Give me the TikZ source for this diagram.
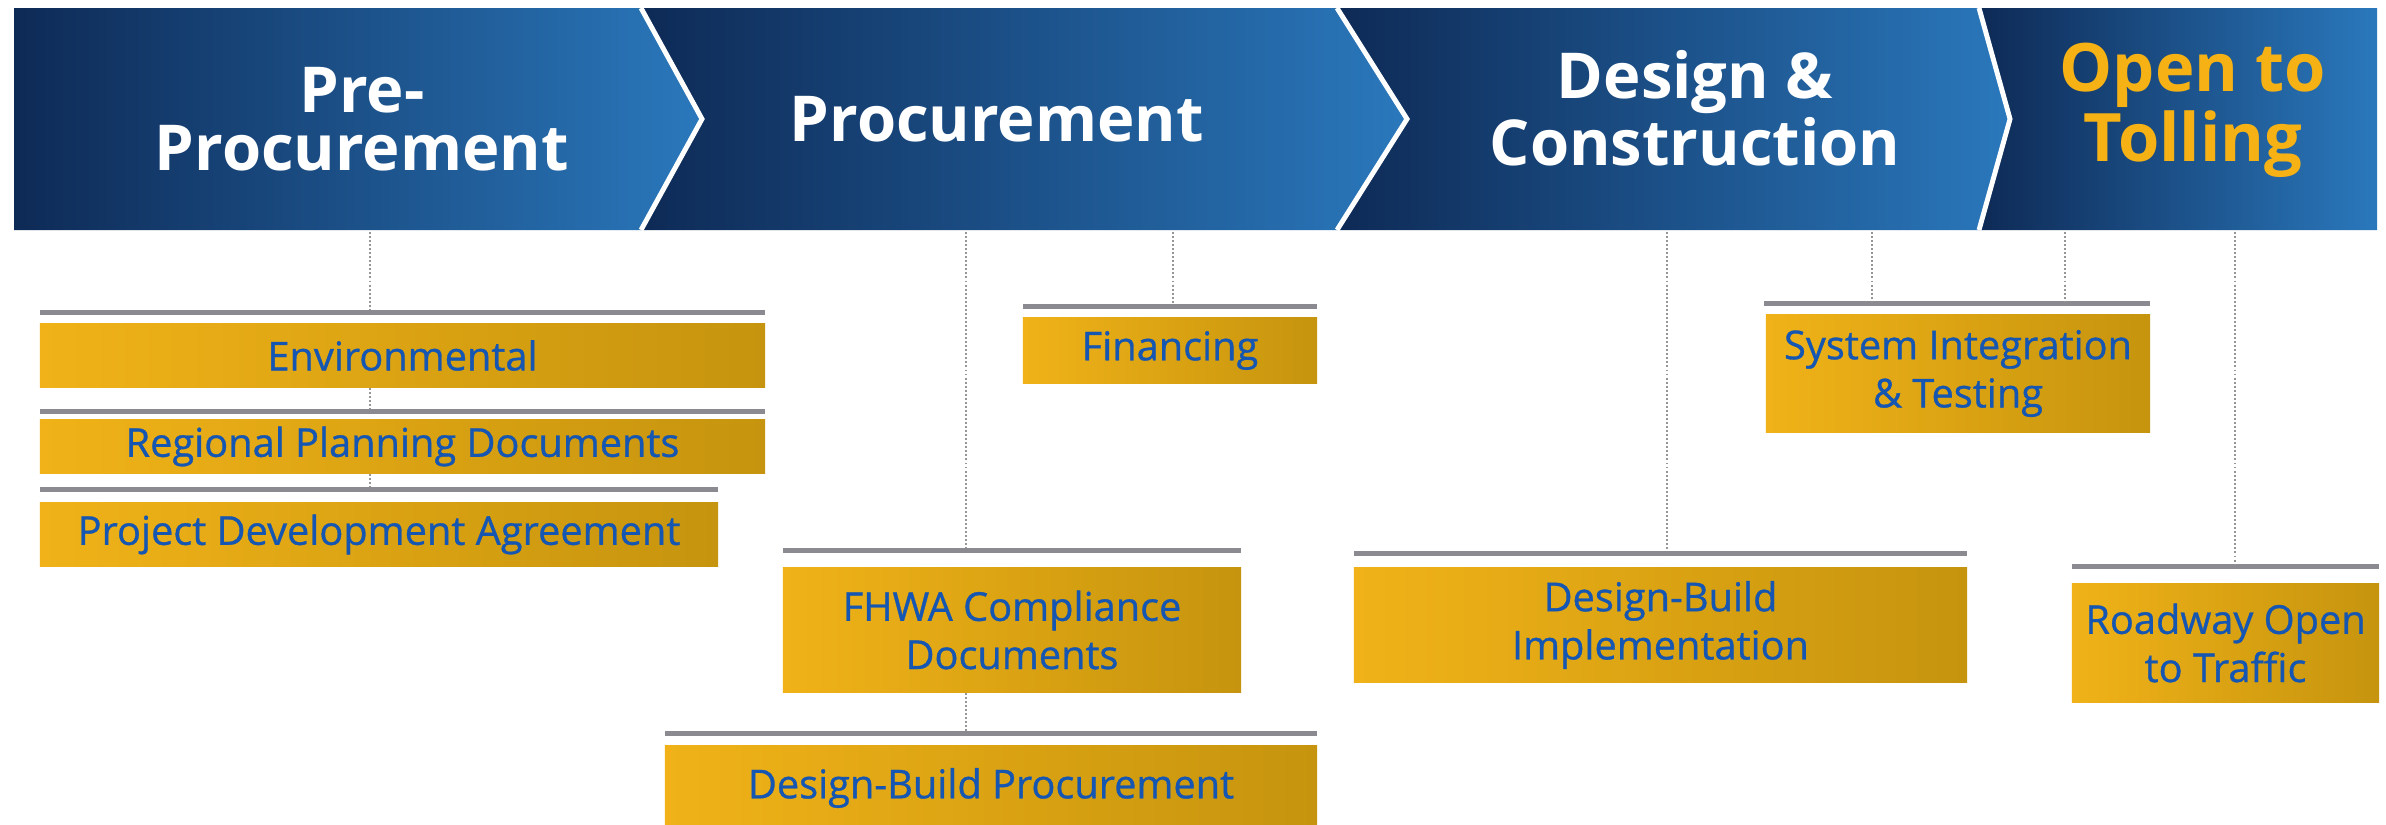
\documentclass[tikz,border=0pt]{standalone}
\usepackage{fontspec}
\setmainfont{Open Sans}
\newfontfamily\taskfont[FakeBold=0.8]{Open Sans}
\usepackage{tikz}
\usepackage{xcolor}

\definecolor{navy}{RGB}{14,42,86}
\definecolor{midblue}{RGB}{22,62,118}
\definecolor{sky}{RGB}{42,120,188}
\definecolor{goldl}{RGB}{240,178,24}
\definecolor{goldr}{RGB}{198,148,14}
\definecolor{tollgold}{RGB}{246,178,20}
\definecolor{txtblue}{RGB}{20,86,178}
\definecolor{bargray}{RGB}{138,138,144}
\definecolor{dotgray}{RGB}{150,150,150}

\begin{document}
\begin{tikzpicture}[x=0.01cm,y=-0.01cm]

\tikzstyle{phase}=[left color=navy, middle color=midblue, right color=sky]
\tikzstyle{sep}=[draw=white, line width=1.4pt, line join=miter]
\tikzstyle{title}=[text=white, font=\bfseries\fontsize{18}{16.5}\selectfont, align=center]
\tikzstyle{task}=[left color=goldl, right color=goldr, inner sep=0pt, text=txtblue, font=\taskfont\fontsize{11.3}{13.7}\selectfont, align=center]
\tikzstyle{bar}=[fill=bargray]
\tikzstyle{dots}=[draw=dotgray, line width=0.6pt, dash pattern=on 0.55pt off 0.6pt]

\def\preproc{(14,8) -- (641,8) -- (702,119) -- (641,230) -- (14,230) -- cycle}
\def\proc{(641,8) -- (1337,8) -- (1407,119) -- (1337,230) -- (641,230) -- (702,119) -- cycle}
\def\design{(1337,8) -- (1979,8) -- (2010,119) -- (1979,230) -- (1337,230) -- (1407,119) -- cycle}
\def\toll{(1979,8) -- (2377,8) -- (2377,230) -- (1979,230) -- (2010,119) -- cycle}

\fill[white] (0,0) rectangle (2386,824);
\useasboundingbox (0,0) rectangle (2386,824);

\shade[phase] \preproc;
\shade[phase] \proc;
\shade[phase] \design;
\shade[phase] \toll;
\draw[sep] (641,8) -- (702,119) -- (641,230);
\draw[sep] (1337,8) -- (1407,119) -- (1337,230);
\draw[sep] (1979,8) -- (2010,119) -- (1979,230);

\node[title] (t1) at (362,119) {Pre-\\Procurement};
\node[title] (t2) at (997,119) {Procurement};
\node[title] (t3) at (1695,108) {Design \&\\Construction};
\node[title, text=tollgold, font=\bfseries\fontsize{19}{20}\selectfont] (t4) at (2193,110) {Open to\\Tolling};

\node[task, minimum width=7.25cm, minimum height=0.63cm] (env) at (402.5,355.5) {Environmental};
\node[task, minimum width=7.25cm, minimum height=0.53cm] (rpd) at (402.5,446.5) {Regional Planning Documents};
\node[task, minimum width=6.78cm, minimum height=0.63cm] (pda) at (379,534.5) {Project Development Agreement};
\node[task, minimum width=2.94cm, minimum height=0.65cm] (fin) at (1170,350.5) {Financing};
\node[task, minimum width=4.58cm, minimum height=1.24cm] (fhwa) at (1012,630) {FHWA Compliance\\Documents};
\node[task, minimum width=6.52cm, minimum height=0.84cm] (dbp) at (991,788) {Design-Build Procurement};
\node[task, minimum width=3.84cm, minimum height=1.17cm] (sit) at (1958,373.5) {System Integration\\\& Testing};
\node[task, minimum width=6.13cm, minimum height=1.14cm] (dbi) at (1660.5,625) {Design-Build\\Implementation};
\node[task, minimum width=3.07cm, minimum height=1.18cm] (road) at (2225.5,643) {Roadway Open\\to Traffic};

\fill[bar] (40,310) rectangle (765,315) coordinate (bar1);
\fill[bar] (40,409) rectangle (765,414) coordinate (bar2);
\fill[bar] (40,487) rectangle (718,492) coordinate (bar3);
\fill[bar] (1023,304) rectangle (1317,309) coordinate (barfin);
\fill[bar] (783,548) rectangle (1241,553) coordinate (barfhwa);
\fill[bar] (665,731) rectangle (1317,736) coordinate (bardbp);
\fill[bar] (1764,301) rectangle (2150,306) coordinate (barsit);
\fill[bar] (1354,551) rectangle (1967,556) coordinate (bardbi);
\fill[bar] (2072,564) rectangle (2379,569) coordinate (barroad);

\coordinate (c1) at (370,232);
\coordinate (c2) at (966,232);
\coordinate (c3) at (1173,232);
\coordinate (c4) at (1667,232);
\coordinate (c5) at (1872,232);
\coordinate (c6) at (2065,232);
\coordinate (c7) at (2235,232);

\draw[dots] (c1) -- ([yshift=0.05cm]c1 |- bar1);
\draw[dots] (c1 |- env.south) -- ([yshift=0.05cm]c1 |- bar2);
\draw[dots] (c1 |- rpd.south) -- ([yshift=0.05cm]c1 |- bar3);
\draw[dots] (c2) -- ([yshift=0.05cm]c2 |- barfhwa);
\draw[dots] (c2 |- fhwa.south) -- ([yshift=0.05cm]c2 |- bardbp);
\draw[dots] (c3) -- ([yshift=0.05cm]c3 |- barfin);
\draw[dots] (c4) -- ([yshift=0.05cm]c4 |- bardbi);
\draw[dots] (c5) -- ([yshift=0.05cm]c5 |- barsit);
\draw[dots] (c6) -- ([yshift=0.05cm]c6 |- barsit);
\draw[dots] (c7) -- ([yshift=0.05cm]c7 |- barroad);
\end{tikzpicture}
\end{document}
